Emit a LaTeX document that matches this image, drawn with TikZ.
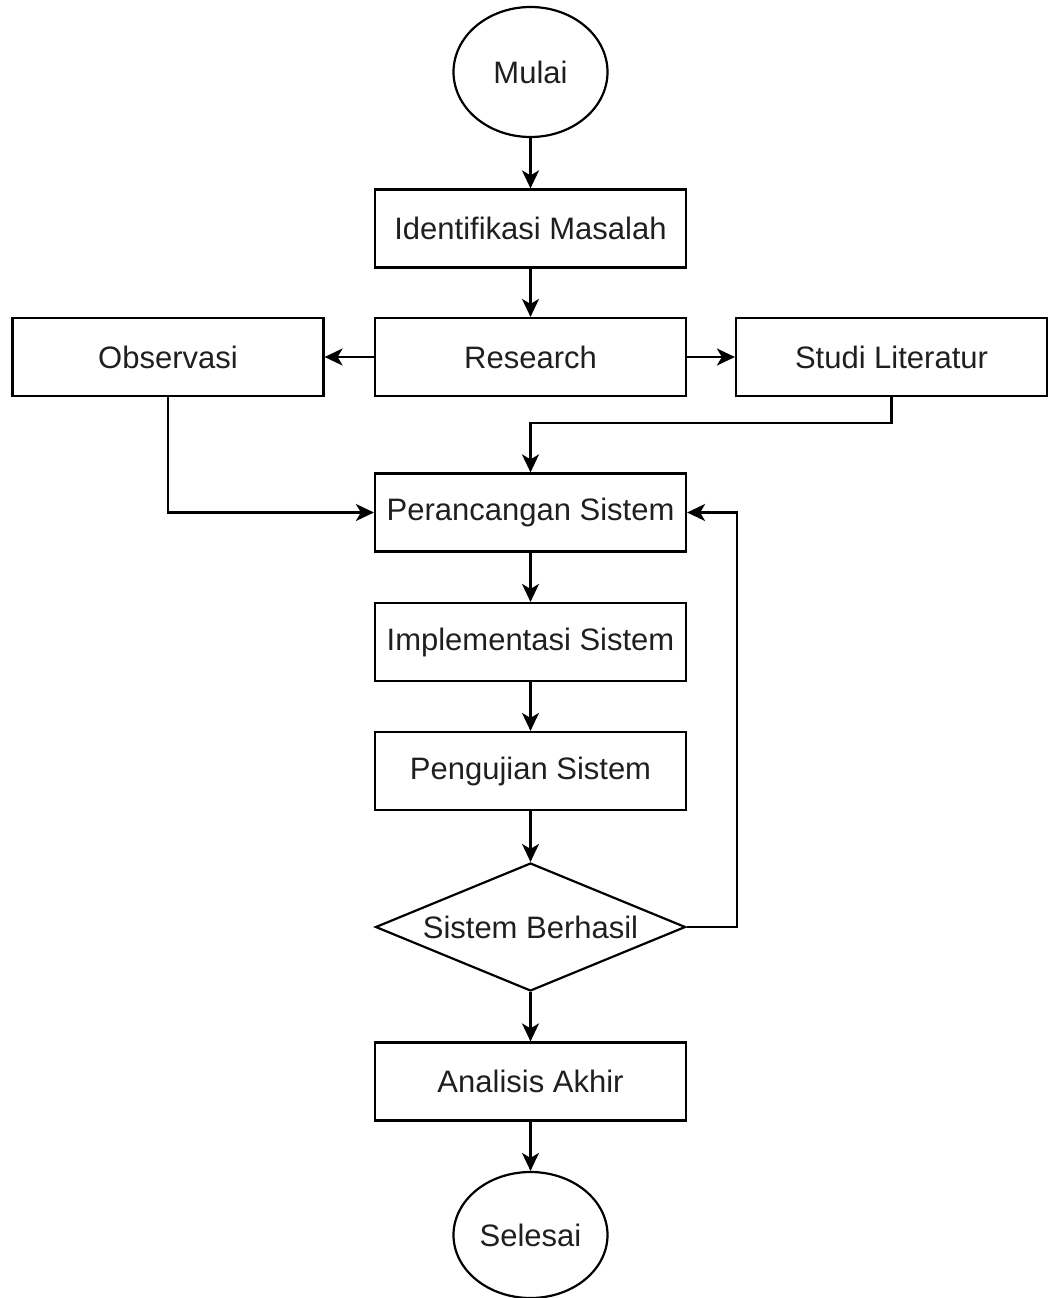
\documentclass[tikz,border=0pt]{standalone}
\usepackage{fontspec}
\setmainfont{Liberation Sans}
\usetikzlibrary{shapes.geometric,arrows.meta}
\begin{document}
\begin{tikzpicture}[x=1pt,y=-1pt,
  line width=2.2pt,
  every node/.style={font=\fontsize{31}{36}\selectfont, text=black!88},
  stepbox/.style={draw, rectangle, minimum width=311pt, minimum height=78pt, inner sep=0pt},
  terminal/.style={draw, ellipse, minimum width=154pt, minimum height=130pt, inner sep=0pt},
  decision/.style={draw, diamond, minimum width=310pt, minimum height=128pt, inner sep=0pt},
  arr/.style={-{Stealth[length=18pt,width=17pt,inset=5pt]}}
]
\useasboundingbox (0,0) rectangle (1047,1298);

% nodes of the flow
\node[terminal] (mulai) at (530.5,72) {Mulai};
\node[stepbox] (ident) at (530.5,228.5) {Identifikasi Masalah};
\node[stepbox] (research) at (530.5,357) {Research};
\node[stepbox] (obs) at (168,357) {Observasi};
\node[stepbox] (studi) at (891.5,357) {Studi Literatur};
\node[stepbox] (peran) at (530.5,512.5) {Perancangan Sistem};
\node[stepbox] (impl) at (530.5,642) {Implementasi Sistem};
\node[stepbox] (uji) at (530.5,771) {Pengujian Sistem};
\node[decision] (dec) at (530.5,927) {};
\node (declabel) at (dec) {Sistem Berhasil};
\node[stepbox] (analisis) at (530.5,1081.5) {Analisis Akhir};
\node[terminal, minimum height=126pt] (selesai) at (530.5,1235) {Selesai};

% bend points of the routed connectors
\coordinate (slbend) at (891.5,423);
\coordinate (fbbend) at (737,927);

% connectors
\draw[arr] (mulai.south) -- (ident.north);
\draw[arr] (ident.south) -- (research.north);
\draw[arr] (research.west) -- (obs.east);
\draw[arr] (research.east) -- (studi.west);
\draw[arr] (studi.south) -- (slbend) -| (peran.north);
\draw[arr] (obs.south) |- (peran.west);
\draw[arr] (peran.south) -- (impl.north);
\draw[arr] (impl.south) -- (uji.north);
\draw[arr] (uji.south) -- (dec.north);
\draw[arr] (dec.east) -- (fbbend) |- (peran.east);
\draw[arr] (dec.south) -- (analisis.north);
\draw[arr] (analisis.south) -- (selesai.north);
\end{tikzpicture}
\end{document}
